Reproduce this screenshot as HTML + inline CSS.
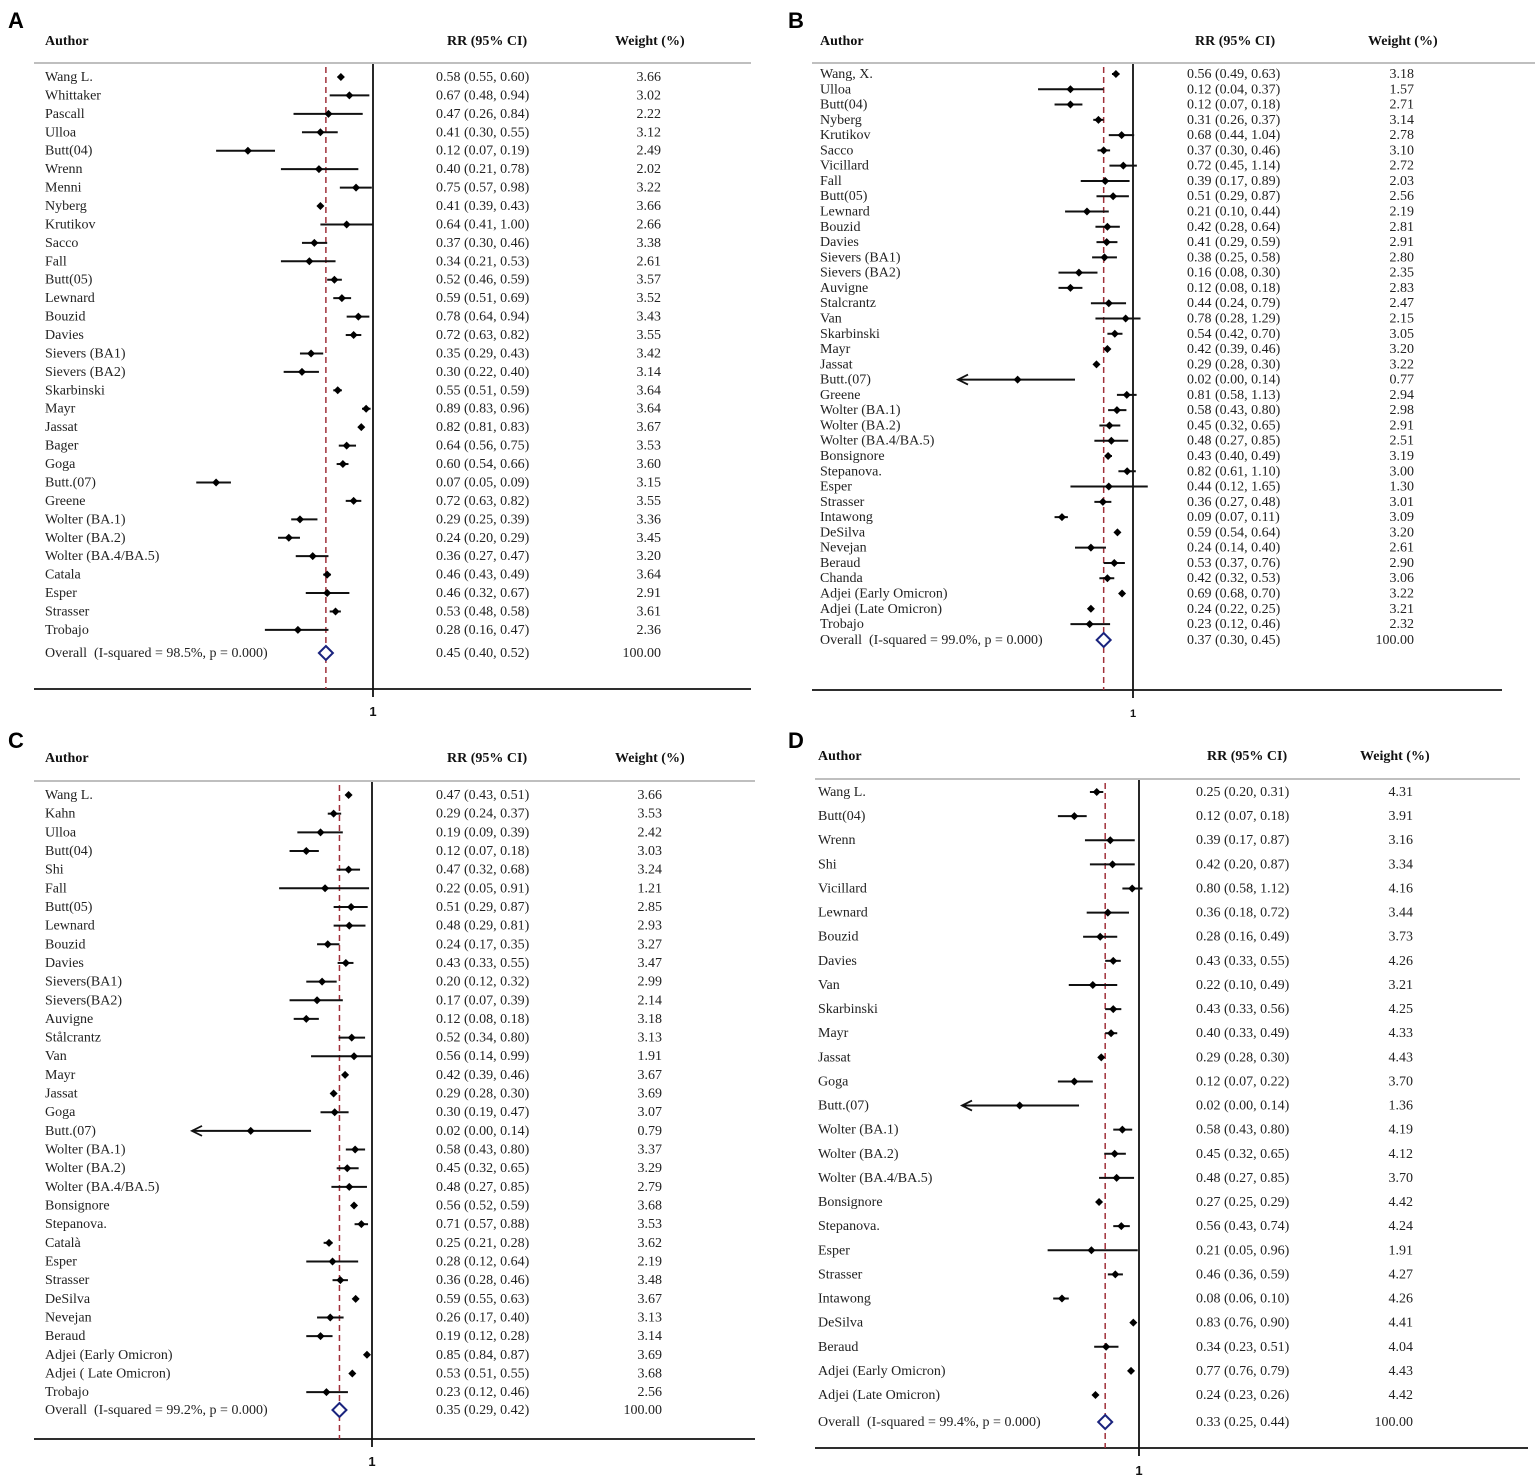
<!DOCTYPE html>
<html><head><meta charset="utf-8"><style>
html,body{margin:0;padding:0;background:#fff;}
svg{display:block;font-family:"Liberation Serif",serif;}
</style></head><body>
<svg id="fig" width="1535" height="1481" viewBox="0 0 1535 1481"></svg>
<script>
// ===== Panel A data =====
const namesA=["Wang L.","Whittaker","Pascall","Ulloa","Butt(04)","Wrenn","Menni","Nyberg","Krutikov","Sacco","Fall","Butt(05)","Lewnard","Bouzid","Davies","Sievers (BA1)","Sievers (BA2)","Skarbinski","Mayr","Jassat","Bager","Goga","Butt.(07)","Greene","Wolter (BA.1)","Wolter (BA.2)","Wolter (BA.4/BA.5)","Catala","Esper","Strasser","Trobajo"];
const rrA=[0.58,0.67,0.47,0.41,0.12,0.40,0.75,0.41,0.64,0.37,0.34,0.52,0.59,0.78,0.72,0.35,0.30,0.55,0.89,0.82,0.64,0.60,0.07,0.72,0.29,0.24,0.36,0.46,0.46,0.53,0.28];
const loA=[0.55,0.48,0.26,0.30,0.07,0.21,0.57,0.39,0.41,0.30,0.21,0.46,0.51,0.64,0.63,0.29,0.22,0.51,0.83,0.81,0.56,0.54,0.05,0.63,0.25,0.20,0.27,0.43,0.32,0.48,0.16];
const hiA=[0.60,0.94,0.84,0.55,0.19,0.78,0.98,0.43,1.00,0.46,0.53,0.59,0.69,0.94,0.82,0.43,0.40,0.59,0.96,0.83,0.75,0.66,0.09,0.82,0.39,0.29,0.47,0.49,0.67,0.58,0.47];
const wA=[3.66,3.02,2.22,3.12,2.49,2.02,3.22,3.66,2.66,3.38,2.61,3.57,3.52,3.43,3.55,3.42,3.14,3.64,3.64,3.67,3.53,3.60,3.15,3.55,3.36,3.45,3.20,3.64,2.91,3.61,2.36];
const overallA=[0.45,0.40,0.52];
const i2A="98.5%";
// ===== Panel B data =====
const namesB=["Wang, X.","Ulloa","Butt(04)","Nyberg","Krutikov","Sacco","Vicillard","Fall","Butt(05)","Lewnard","Bouzid","Davies","Sievers (BA1)","Sievers (BA2)","Auvigne","Stalcrantz","Van","Skarbinski","Mayr","Jassat","Butt.(07)","Greene","Wolter (BA.1)","Wolter (BA.2)","Wolter (BA.4/BA.5)","Bonsignore","Stepanova.","Esper","Strasser","Intawong","DeSilva","Nevejan","Beraud","Chanda","Adjei (Early Omicron)","Adjei (Late Omicron)","Trobajo"];
const rrB=[0.56,0.12,0.12,0.31,0.68,0.37,0.72,0.39,0.51,0.21,0.42,0.41,0.38,0.16,0.12,0.44,0.78,0.54,0.42,0.29,0.02,0.81,0.58,0.45,0.48,0.43,0.82,0.44,0.36,0.09,0.59,0.24,0.53,0.42,0.69,0.24,0.23];
const loB=[0.49,0.04,0.07,0.26,0.44,0.30,0.45,0.17,0.29,0.10,0.28,0.29,0.25,0.08,0.08,0.24,0.28,0.42,0.39,0.28,0.00,0.58,0.43,0.32,0.27,0.40,0.61,0.12,0.27,0.07,0.54,0.14,0.37,0.32,0.68,0.22,0.12];
const hiB=[0.63,0.37,0.18,0.37,1.04,0.46,1.14,0.89,0.87,0.44,0.64,0.59,0.58,0.30,0.18,0.79,1.29,0.70,0.46,0.30,0.14,1.13,0.80,0.65,0.85,0.49,1.10,1.65,0.48,0.11,0.64,0.40,0.76,0.53,0.70,0.25,0.46];
const wB=[3.18,1.57,2.71,3.14,2.78,3.10,2.72,2.03,2.56,2.19,2.81,2.91,2.80,2.35,2.83,2.47,2.15,3.05,3.20,3.22,0.77,2.94,2.98,2.91,2.51,3.19,3.00,1.30,3.01,3.09,3.20,2.61,2.90,3.06,3.22,3.21,2.32];
const overallB=[0.37,0.30,0.45];
const i2B="99.0%";
// ===== Panel C data =====
const namesC=["Wang L.","Kahn","Ulloa","Butt(04)","Shi","Fall","Butt(05)","Lewnard","Bouzid","Davies","Sievers(BA1)","Sievers(BA2)","Auvigne","Stålcrantz","Van","Mayr","Jassat","Goga","Butt.(07)","Wolter (BA.1)","Wolter (BA.2)","Wolter (BA.4/BA.5)","Bonsignore","Stepanova.","Català","Esper","Strasser","DeSilva","Nevejan","Beraud","Adjei (Early Omicron)","Adjei ( Late Omicron)","Trobajo"];
const rrC=[0.47,0.29,0.19,0.12,0.47,0.22,0.51,0.48,0.24,0.43,0.20,0.17,0.12,0.52,0.56,0.42,0.29,0.30,0.02,0.58,0.45,0.48,0.56,0.71,0.25,0.28,0.36,0.59,0.26,0.19,0.85,0.53,0.23];
const loC=[0.43,0.24,0.09,0.07,0.32,0.05,0.29,0.29,0.17,0.33,0.12,0.07,0.08,0.34,0.14,0.39,0.28,0.19,0.00,0.43,0.32,0.27,0.52,0.57,0.21,0.12,0.28,0.55,0.17,0.12,0.84,0.51,0.12];
const hiC=[0.51,0.37,0.39,0.18,0.68,0.91,0.87,0.81,0.35,0.55,0.32,0.39,0.18,0.80,0.99,0.46,0.30,0.47,0.14,0.80,0.65,0.85,0.59,0.88,0.28,0.64,0.46,0.63,0.40,0.28,0.87,0.55,0.46];
const wC=[3.66,3.53,2.42,3.03,3.24,1.21,2.85,2.93,3.27,3.47,2.99,2.14,3.18,3.13,1.91,3.67,3.69,3.07,0.79,3.37,3.29,2.79,3.68,3.53,3.62,2.19,3.48,3.67,3.13,3.14,3.69,3.68,2.56];
const overallC=[0.35,0.29,0.42];
const i2C="99.2%";
// ===== Panel D data =====
const namesD=["Wang L.","Butt(04)","Wrenn","Shi","Vicillard","Lewnard","Bouzid","Davies","Van","Skarbinski","Mayr","Jassat","Goga","Butt.(07)","Wolter (BA.1)","Wolter (BA.2)","Wolter (BA.4/BA.5)","Bonsignore","Stepanova.","Esper","Strasser","Intawong","DeSilva","Beraud","Adjei (Early Omicron)","Adjei (Late Omicron)"];
const rrD=[0.25,0.12,0.39,0.42,0.80,0.36,0.28,0.43,0.22,0.43,0.40,0.29,0.12,0.02,0.58,0.45,0.48,0.27,0.56,0.21,0.46,0.08,0.83,0.34,0.77,0.24];
const loD=[0.20,0.07,0.17,0.20,0.58,0.18,0.16,0.33,0.10,0.33,0.33,0.28,0.07,0.00,0.43,0.32,0.27,0.25,0.43,0.05,0.36,0.06,0.76,0.23,0.76,0.23];
const hiD=[0.31,0.18,0.87,0.87,1.12,0.72,0.49,0.55,0.49,0.56,0.49,0.30,0.22,0.14,0.80,0.65,0.85,0.29,0.74,0.96,0.59,0.10,0.90,0.51,0.79,0.26];
const wD=[4.31,3.91,3.16,3.34,4.16,3.44,3.73,4.26,3.21,4.25,4.33,4.43,3.70,1.36,4.19,4.12,3.70,4.42,4.24,1.91,4.27,4.26,4.41,4.04,4.43,4.42];
const overallD=[0.33,0.25,0.44];
const i2D="99.4%";

const NS="http://www.w3.org/2000/svg";
const svg=document.getElementById('fig');
const FS=14;
function mk(tag,attrs,parent,text){const e=document.createElementNS(NS,tag);for(const k in attrs)e.setAttribute(k,attrs[k]);if(text!==undefined)e.textContent=text;(parent||svg).appendChild(e);return e;}
const f2=v=>v.toFixed(2);

function drawPanel(P,names,rr,lo,hi,w,ov,i2){
  const g=mk('g',{});
  
  
  const xs=v=>P.x1+P.k*Math.log(Math.max(v,1e-6));
  const yr=i=>P.y0+i*P.dy;
  const lt=mk('text',{x:P.letterX,y:P.letterY,'font-family':'Liberation Sans, sans-serif','font-weight':'bold','font-size':22,fill:'#000'},g,P.id);
  
  const h1=mk('text',{x:P.nameX,y:P.hY+4,'font-size':FS,'font-weight':'bold',fill:'#111'},g,'Author');
  
  const h2=mk('text',{x:P.rrH,y:P.hY+4,'font-size':FS,'font-weight':'bold',fill:'#111'},g,'RR (95% CI)');
  
  const h3=mk('text',{x:P.wH,y:P.hY+4,'font-size':FS,'font-weight':'bold',fill:'#111'},g,'Weight (%)');
  
  const hl=mk('line',{x1:P.hx1,x2:P.hx2,y1:P.hLine,y2:P.hLine,stroke:'#aaa','stroke-width':1.5},g);
  
  const ax=mk('line',{x1:P.ax1,x2:P.ax2,y1:P.axY,y2:P.axY,stroke:'#111','stroke-width':1.8},g);
  
  const nl=mk('line',{x1:xs(1),x2:xs(1),y1:P.hLine+1,y2:P.axY+8,stroke:'#111','stroke-width':1.8},g);
  
  const tl=mk('text',{x:xs(1),y:P.axY+27,'font-family':'Liberation Sans, sans-serif','font-weight':'bold','font-size':P.tickFs,'text-anchor':'middle',fill:'#111'},g,'1');
  
  const dl=mk('line',{x1:xs(ov[0]),x2:xs(ov[0]),y1:P.hLine+4,y2:P.axY,stroke:'#a0303a','stroke-width':1.5,'stroke-dasharray':'6,4'},g);
  
  for(let i=0;i<names.length;i++){
    const y=yr(i);
    const n=mk('text',{x:P.nameX,y:y+4,'font-size':FS,fill:'#222'},g,names[i]);
    
    const r=mk('text',{x:P.rrX,y:y+4,'font-size':FS,fill:'#222'},g,f2(rr[i])+' ('+f2(lo[i])+', '+f2(hi[i])+')');
    
    const wt=mk('text',{x:P.wX,y:y+4,'font-size':FS,fill:'#222','text-anchor':'end'},g,f2(w[i]));
    
    let xl=xs(lo[i]);const clipped=P.arrowMin!==undefined&&xl<P.arrowMin;
    if(clipped)xl=P.arrowMin;
    const ci=mk('line',{x1:xl,x2:xs(hi[i]),y1:y,y2:y,stroke:'#111','stroke-width':2},g);
    
    if(clipped){
      const ar=mk('path',{d:`M${xl+10},${y-5} L${xl},${y} L${xl+10},${y+5}`,fill:'none',stroke:'#111','stroke-width':1.8},g);
      
    }
    const px=xs(rr[i]),s=4;
    const d=mk('path',{d:`M${px},${y-s} L${px+s},${y} L${px},${y+s} L${px-s},${y} Z`,fill:'#000'},g);
    
  }
  const oy=P.oY;
  const ot=mk('text',{x:P.nameX,y:oy+4,'font-size':FS,fill:'#222'},g,'Overall\u00a0\u00a0(I-squared = '+i2+', p = 0.000)');
  
  const orr=mk('text',{x:P.rrX,y:oy+4,'font-size':FS,fill:'#222'},g,f2(ov[0])+' ('+f2(ov[1])+', '+f2(ov[2])+')');
  
  const ow=mk('text',{x:P.wX,y:oy+4,'font-size':FS,fill:'#222','text-anchor':'end'},g,'100.00');
  
  const ox=xs(ov[0]),s=7;
  const od=mk('path',{d:`M${ox},${oy-s} L${ox+s},${oy} L${ox},${oy+s} L${ox-s},${oy} Z`,fill:'#fff',stroke:'#1a237e','stroke-width':2},g);
  
}

drawPanel({id:'A',letterX:8,letterY:28,nameX:45,rrX:436,wX:661,rrH:447,wH:615,hY:41,hLine:63,hx1:34,hx2:751,ax1:34,ax2:751,axY:689,x1:373,k:59,y0:77,dy:18.43,oY:653,tickFs:13},namesA,rrA,loA,hiA,wA,overallA,i2A);
drawPanel({id:'B',letterX:788,letterY:28,nameX:820,rrX:1187,wX:1414,rrH:1195,wH:1368,hY:41,hLine:63,hx1:812,hx2:1535,ax1:812,ax2:1502,axY:690,x1:1133,k:29.5,y0:74,dy:15.28,oY:640,tickFs:11,arrowMin:958},namesB,rrB,loB,hiB,wB,overallB,i2B);
drawPanel({id:'C',letterX:8,letterY:748,nameX:45,rrX:436,wX:662,rrH:447,wH:615,hY:758,hLine:781,hx1:34,hx2:755,ax1:34,ax2:755,axY:1439,x1:372,k:31,y0:795,dy:18.66,oY:1410,tickFs:13,arrowMin:192},namesC,rrC,loC,hiC,wC,overallC,i2C);
drawPanel({id:'D',letterX:788,letterY:748,nameX:818,rrX:1196,wX:1413,rrH:1207,wH:1360,hY:756,hLine:779,hx1:815,hx2:1520,ax1:815,ax2:1528,axY:1448,x1:1139,k:30.5,y0:792,dy:24.12,oY:1422,tickFs:13,arrowMin:962},namesD,rrD,loD,hiD,wD,overallD,i2D);
</script>
</body></html>
